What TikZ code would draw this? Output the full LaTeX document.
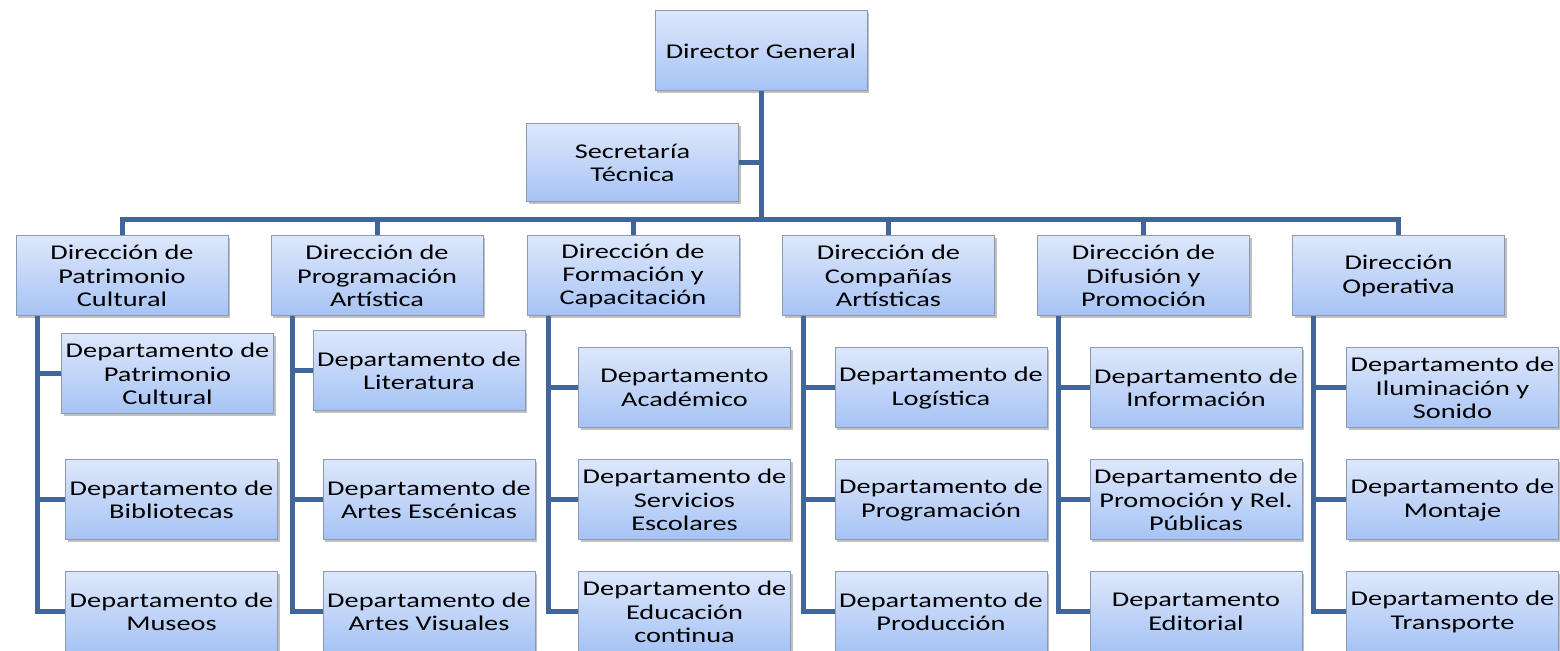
\documentclass[tikz,border=0pt]{standalone}
\usepackage{fontspec}
\setmainfont{Carlito}[FakeStretch=1.35]
\usetikzlibrary{shadows}

\definecolor{cajaarriba}{HTML}{DDE7FB}
\definecolor{cajaabajo}{HTML}{A6C3F5}
\definecolor{borde}{HTML}{8C9AB0}
\definecolor{linea}{HTML}{41669A}

\tikzset{
  caja/.style={draw=borde, line width=0.5pt, top color=cajaarriba, bottom color=cajaabajo,
    align=center, minimum width=106pt, minimum height=40pt, inner sep=1pt,
    font=\fontsize{10.5}{11.7}\selectfont,
    drop shadow={shadow xshift=1pt, shadow yshift=-1.2pt, opacity=0.35, fill=black!70}},
  conector/.style={draw=linea, line width=2.5pt},
}

\begin{document}
\begin{tikzpicture}[x=0.5pt, y=-0.5pt]
    \useasboundingbox[fill=white] (0,0) rectangle (1560,651);

    \node[caja] (dg) at (761,51) {Director General};
    \node[caja, minimum height=39pt] (st) at (632.5,163) {Secretaría\\Técnica};

    \node[caja] (d1) at (122,276) {Dirección de\\Patrimonio\\Cultural};
    \node[caja] (d2) at (377,276) {Dirección de\\Programación\\Artística};
    \node[caja] (d3) at (633,276) {Dirección de\\Formación y\\Capacitación};
    \node[caja] (d4) at (888.5,276) {Dirección de\\Compañías\\Artísticas};
    \node[caja] (d5) at (1143.5,276) {Dirección de\\Difusión y\\Promoción};
    \node[caja] (d6) at (1398.5,276) {Dirección\\Operativa};

    \node[caja] (p11) at (167.5,374) {Departamento de\\Patrimonio\\Cultural};
    \node[caja] (p12) at (171.5,500) {Departamento de\\Bibliotecas};
    \node[caja] (p13) at (171.5,612) {Departamento de\\Museos};

    \node[caja] (p21) at (419,371) {Departamento de\\Literatura};
    \node[caja] (p22) at (429,500) {Departamento de\\Artes Escénicas};
    \node[caja] (p23) at (429,612) {Departamento de\\Artes Visuales};

    \node[caja] (p31) at (684.5,388) {Departamento\\Académico};
    \node[caja] (p32) at (684.5,500) {Departamento de\\Servicios\\Escolares};
    \node[caja] (p33) at (684.5,612) {Departamento de\\Educación\\continua};

    \node[caja] (p41) at (941,388) {Departamento de\\Logística};
    \node[caja] (p42) at (941,500) {Departamento de\\Programación};
    \node[caja] (p43) at (941,612) {Departamento de\\Producción};

    \node[caja] (p51) at (1196,388) {Departamento de\\Información};
    \node[caja] (p52) at (1196,500) {Departamento de\\Promoción y Rel.\\Públicas};
    \node[caja] (p53) at (1196,612) {Departamento\\Editorial};

    \node[caja] (p61) at (1452.5,388) {Departamento de\\Iluminación y\\Sonido};
    \node[caja] (p62) at (1452.5,500) {Departamento de\\Montaje};
    \node[caja] (p63) at (1452.5,612) {Departamento de\\Transporte};

    \coordinate (bus) at (761,220);
    \draw[conector] (dg.south) -- (bus);
    \draw[conector] (st.east) -| (bus);
    \foreach \c in {1,...,6}{
      \draw[conector] (bus) -| (d\c.north);
      \foreach \r in {1,2,3}
        \draw[conector] (d\c.south west) ++(21.5,0) |- (p\c\r.west);
    }
\end{tikzpicture}
\end{document}
